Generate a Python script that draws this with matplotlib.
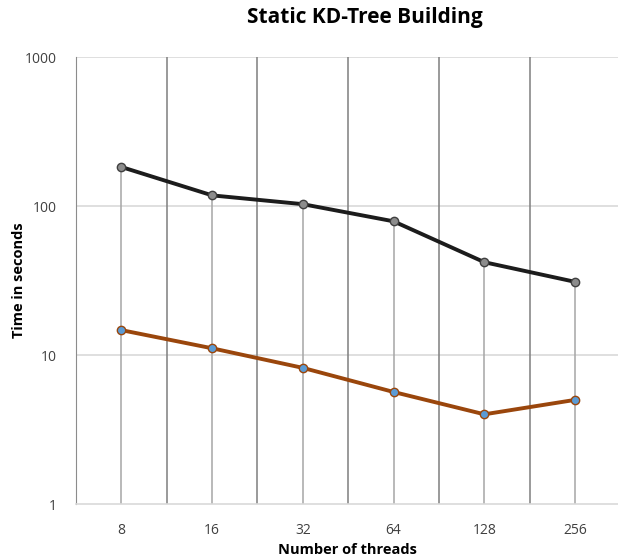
import numpy as np
import matplotlib
matplotlib.use("Agg")
import matplotlib.pyplot as plt

plt.rcParams['font.family'] = ['Liberation Sans Narrow', 'Open Sans', 'DejaVu Sans']

# thread counts and build times (seconds)
threads = ['8', '16', '32', '64', '128', '256']
time_top = [183, 118, 103, 79, 42, 31]
time_bottom = [14.7, 11.1, 8.2, 5.65, 4.0, 5.0]

x = np.arange(len(threads))

fig = plt.figure(figsize=(6.18, 5.6), dpi=100)
ax = fig.add_axes([0.123, 0.1, 0.877, 0.798])
ax.set_yscale('log')
ax.set_ylim(1, 1000)
ax.set_xlim(-0.5, 5.473)

# horizontal gridlines at each decade
for v in [10, 100, 1000]:
    ax.axhline(v, color='#d9d9d9', lw=1.2, zorder=1)

# category separators
ax.vlines(x[:-1] + 0.5, 1, 1000, color='#7f7f7f', lw=1.1, zorder=1)
# drop lines from each point
ax.vlines(x, 1, np.maximum(time_top, time_bottom), color='#a6a6a6', lw=1.1, zorder=2)

ax.plot(x, time_top, color='#1c1c1c', lw=2.8, marker='o', ms=6,
        mfc='#8c8c8c', mec='#404040', mew=1, zorder=4, solid_capstyle='round')
ax.plot(x, time_bottom, color='#9a460c', lw=2.8, marker='o', ms=6,
        mfc='#5b9bd5', mec='#9a460c', mew=1, zorder=4, solid_capstyle='round')

for s in ['top', 'right']:
    ax.spines[s].set_visible(False)
ax.spines['left'].set_color('#8c8c8c')
ax.spines['bottom'].set_color('#d9d9d9')
ax.spines['bottom'].set_linewidth(1.2)

ax.set_xticks(x)
ax.set_xticklabels(threads)
ax.set_yticks([1, 10, 100, 1000])
ax.set_yticklabels(['1', '10', '100', '1000'])
ax.yaxis.set_minor_locator(matplotlib.ticker.NullLocator())
ax.tick_params(length=0, labelsize=10, colors='#404040', pad=14)
ax.tick_params(axis='y', pad=14)

fig.text(0.59, 0.968, 'Static KD-Tree Building', ha='center', va='center',
         fontsize=15, fontweight='bold')
fig.text(0.562, 0.018, 'Number of threads', ha='center', va='center',
         fontsize=10.5, fontweight='bold')
fig.text(0.03, 0.5, 'Time in seconds', ha='center', va='center', rotation=90,
         fontsize=10.5, fontweight='bold')

fig.savefig('out.png', dpi=100)
